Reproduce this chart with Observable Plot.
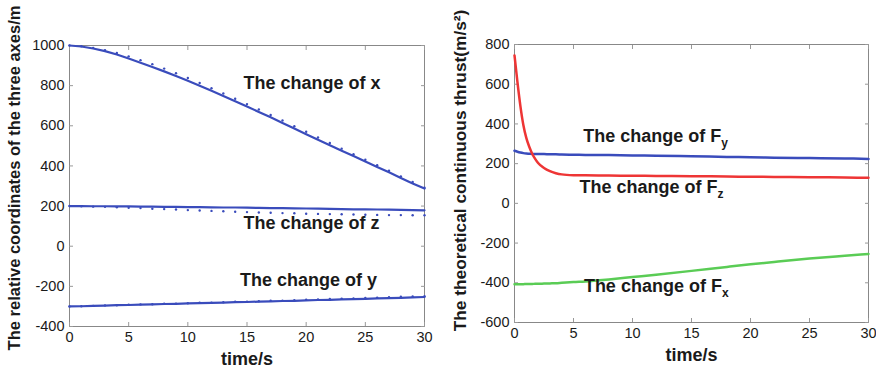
<!DOCTYPE html>
<html><head><meta charset="utf-8">
<script src="https://cdn.jsdelivr.net/npm/d3@7"></script>
<script src="https://cdn.jsdelivr.net/npm/@observablehq/plot@0.6"></script>
<style>
html,body{margin:0;padding:0;background:#fff;}
#wrap{display:flex;width:876px;height:370px;overflow:hidden;}
g[aria-label="y-axis label"] text{font-weight:bold;font-size:16.5px;fill:#1a1a1a;}
.thrust g[aria-label="y-axis label"] text{font-size:17.3px;}
g[aria-label="x-axis label"] text{font-weight:bold;font-size:18px;fill:#1a1a1a;}
g[aria-label$="tick"] path{stroke:#999;}
</style></head><body><div id="wrap"></div>
<script>
// ---- ticks ----
const timeTicks = [0, 5, 10, 15, 20, 25, 30];
const coordTicks = [-400, -200, 0, 200, 400, 600, 800, 1000];
const thrustTicks = [-600, -400, -200, 0, 200, 400, 600, 800];

// ---- left panel: relative coordinates (t = 0..30 s) ----
const tCoord = [0,1,2,3,4,5,6,7,8,9,10,11,12,13,14,15,16,17,18,19,20,21,22,23,24,25,26,27,28,29,30];
const xLine = [1000,995,985,972,955,935,914,893,871,848,824,799,774,748,722,696,669,642,614,586,558,531,503,476,449,422,395,368,340,313,287];
const xDots = [1000,996,988,977,963,946,927,907,885,862,838,813,787,761,735,708,681,654,626,598,570,542,514,486,458,431,404,376,348,320,291];
const zLine = [200,200,199,199,198,198,197,197,196,196,195,195,194,193,193,192,191,190,190,189,188,187,186,185,184,184,183,182,181,180,179];
const zDots = [200,199,197,196,194,192,190,187,185,183,180,178,176,174,172,170,168,167,165,164,162,161,160,159,158,157,156,155,155,154,154];
const yLine = [-300,-299,-297,-296,-294,-293,-291,-290,-288,-287,-285,-284,-282,-281,-279,-278,-276,-275,-273,-272,-270,-268,-267,-265,-264,-262,-260,-259,-257,-255,-253];
const yDots = [-300,-299,-297,-295,-294,-292,-290,-289,-287,-286,-284,-282,-281,-279,-277,-276,-274,-272,-271,-269,-267,-265,-263,-261,-260,-258,-256,-254,-252,-250,-249];

const coordNoteText = ["The change of x", "The change of z", "The change of y"];
const coordNoteT = [14.7, 14.7, 14.4];
const coordNoteV = [810, 112, -168];

// ---- right panel: theoretical continuous thrust ----
const tThrust = [0,0.25,0.5,0.75,1,1.25,1.5,1.75,2,2.5,3,3.5,4,5,6,8,10,12,15,18,20,22,25,28,30];
const fz = [745,610,490,395,330,285,250,224,203,178,162,152,146,142,141,140,139,138,137,135,134,133,132,130,129];
const fy = [265,260,256,253,251,250,249,249,248,248,247,247,246,245,244,243,241,240,237,234,232,230,228,226,224];
const fx = [-407,-407,-407,-407,-406,-406,-406,-405,-405,-404,-403,-402,-400,-396,-393,-383,-371,-359,-340,-320,-307,-295,-278,-264,-255];

const thrustNoteText = ["The change of F|y", "The change of F|z", "The change of F|x"];
const thrustNoteT = [5.83, 5.5, 5.88];
const thrustNoteV = [337, 82, -417];

const blue = "#3a4cbc", red = "#ee3535", green = "#5acc55";
const font = "'Liberation Sans', Arial, Helvetica, sans-serif";

function rows(ts, vs) { return ts.map((t, i) => ({t, v: vs[i]})); }
function notes(txt, ts, vs) { return txt.map((s, i) => ({text: s, t: ts[i], v: vs[i]})); }
const plain = d => String(d);

function frameAxes(yTicks, ylabel) {
  return [
    Plot.frame({stroke: "#888", strokeWidth: 1}),
    Plot.axisX({ticks: timeTicks, tickFormat: plain, tickSize: -4, tickPadding: 9, label: "time/s", labelArrow: "none", labelAnchor: "center", labelOffset: 38, fontSize: 14.5}),
    Plot.axisX({anchor: "top", ticks: timeTicks, tickSize: -4, tickFormat: () => "", label: null}),
    Plot.axisY({ticks: yTicks, tickFormat: plain, tickSize: -4, tickPadding: 9, label: ylabel, labelArrow: "none", labelAnchor: "center", labelOffset: 61, fontSize: 14.5}),
    Plot.axisY({anchor: "right", ticks: yTicks, tickSize: -4, tickFormat: () => "", label: null})
  ];
}

const left = Plot.plot({
  width: 438, height: 370,
  marginLeft: 69, marginRight: 14, marginTop: 45, marginBottom: 44,
  style: {fontFamily: font, fontSize: "14.5px", color: "#1a1a1a", background: "#fff"},
  x: {domain: [0, 30]},
  y: {domain: [-400, 1000]},
  marks: [
    ...frameAxes(coordTicks, "The relative coordinates of the three axes/m"),
    Plot.line(rows(tCoord, xLine), {x: "t", y: "v", stroke: blue, strokeWidth: 2.2}),
    Plot.line(rows(tCoord, zLine), {x: "t", y: "v", stroke: blue, strokeWidth: 2.2}),
    Plot.line(rows(tCoord, yLine), {x: "t", y: "v", stroke: blue, strokeWidth: 2.2}),
    Plot.dot(rows(tCoord, xDots), {x: "t", y: "v", r: 1.2, fill: blue, stroke: "none"}),
    Plot.dot(rows(tCoord, zDots), {x: "t", y: "v", r: 1.2, fill: blue, stroke: "none"}),
    Plot.dot(rows(tCoord, yDots), {x: "t", y: "v", r: 1.2, fill: blue, stroke: "none"}),
    Plot.text(notes(coordNoteText, coordNoteT, coordNoteV), {x: "t", y: "v", text: "text", textAnchor: "start", fontSize: 18, fontWeight: "bold", fill: "#1a1a1a"})
  ]
});

const right = Plot.plot({
  width: 438, height: 370,
  marginLeft: 76, marginRight: 8, marginTop: 44, marginBottom: 48,
  style: {fontFamily: font, fontSize: "14.5px", color: "#1a1a1a", background: "#fff"},
  x: {domain: [0, 30]},
  y: {domain: [-600, 800]},
  marks: [
    ...frameAxes(thrustTicks, "The theoretical continuous thrust(m/s²)"),
    Plot.line(rows(tThrust, fx), {x: "t", y: "v", stroke: green, strokeWidth: 2.5, curve: "monotone-x"}),
    Plot.line(rows(tThrust, fy), {x: "t", y: "v", stroke: blue, strokeWidth: 2.5, curve: "monotone-x"}),
    Plot.line(rows(tThrust, fz), {x: "t", y: "v", stroke: red, strokeWidth: 2.5, curve: "monotone-x"}),
    Plot.text(notes(thrustNoteText, thrustNoteT, thrustNoteV), {x: "t", y: "v", text: "text", textAnchor: "start", fontSize: 18, fontWeight: "bold", fill: "#1a1a1a"})
  ]
});
right.classList.add("thrust");

// subscripts: "F|y" -> F with subscript y
d3.select(right).selectAll("text").each(function () {
  const s = this.textContent;
  if (!s.includes("|")) return;
  const [main, sub] = s.split("|");
  const el = d3.select(this);
  el.selectAll("*").remove();
  el.text(null);
  el.append("tspan").text(main);
  el.append("tspan").attr("font-size", 12).attr("dy", 5).text(sub);
});

// nudge rotated y labels upward along their reading direction
function nudge(svg, d) {
  d3.select(svg).selectAll('g[aria-label="y-axis label"] text').each(function () {
    const t = this.getAttribute("transform") || "";
    this.setAttribute("transform", t + ` translate(${d},0)`);
  });
}
nudge(left, 8);
nudge(right, 13);

document.getElementById("wrap").append(left, right);
</script></body></html>
